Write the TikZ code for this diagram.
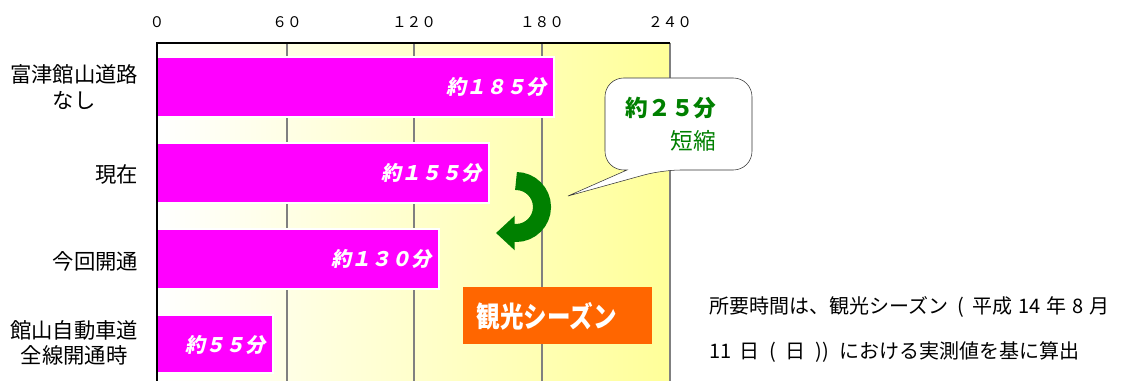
\documentclass[tikz,border=0pt]{standalone}
\usepackage{fontspec}
\usepackage{tikz}
\usetikzlibrary{arrows.meta}

\setmainfont{Noto Sans CJK JP}
\newfontfamily\barfont[FakeSlant=0.2]{Noto Sans CJK JP}
\newfontfamily\seasonfont[FakeStretch=0.82]{Noto Sans CJK JP}

\definecolor{barmagenta}{HTML}{FF00FF}
\definecolor{shortgreen}{HTML}{008000}
\definecolor{seasonorange}{HTML}{FF6600}
\definecolor{gridgray}{HTML}{808080}
\definecolor{plotyellow}{HTML}{FFFF99}

\begin{document}
\begin{tikzpicture}[x=0.75pt,y=-0.75pt,semithick]

  \tikzstyle{axis label}=[font=\fontsize{11}{13}\selectfont]
  \tikzstyle{category}=[anchor=east,align=center,font=\fontsize{16}{19}\selectfont]
  \tikzstyle{bar}=[fill=barmagenta,draw=white,line width=1.5pt]
  \tikzstyle{bar label}=[anchor=east,text=white,font=\barfont\bfseries\fontsize{15}{18}\selectfont]
  \tikzstyle{grid line}=[draw=gridgray,line width=1.5pt]
  \tikzstyle{callout}=[fill=white,draw=black!80,thin]
  \tikzstyle{green text}=[text=shortgreen,font=\fontsize{17}{20}\selectfont]
  \tikzstyle{note}=[anchor=west,font=\fontsize{15}{18}\selectfont]

  \useasboundingbox (0,0) rectangle (1136,381);

  % plot area
  \shade[left color=white,right color=plotyellow] (157,43) rectangle (670,381);
  \foreach \x in {287,414,542,670}
    \draw[grid line] (\x,43) -- (\x,381);
  \foreach \x/\v/\n in {157/０/t0,287/６０/t60,414/１２０/t120,542/１８０/t180,670/２４０/t240}
    \node[axis label] (\n) at (\x,22) {\v};

  % bars
  \draw[bar] (157,57) rectangle (554,117);
  \draw[bar] (157,143) rectangle (489,203);
  \draw[bar] (157,229) rectangle (439,289);
  \draw[bar] (157,315) rectangle (273,373);
  \node[bar label] (b185) at (551,87) {約１８５分};
  \node[bar label] (b155) at (486,173) {約１５５分};
  \node[bar label] (b130) at (436,259) {約１３０分};
  \node[bar label] (b55)  at (270,345) {約５５分};

  \draw[black,line width=1.8pt] (157,381) -- (157,43) -- (670,43);

  % categories
  \node[category] (road)    at (143,87)  {富津館山道路\\なし};
  \node[category] (now)     at (143,174) {現在};
  \node[category] (open)    at (143,261) {今回開通};
  \node[category] (full)    at (143,343) {館山自動車道\\全線開通時};

  % shortening
  \draw[shortgreen,line width=13.5pt,-{Triangle[length=14pt,width=25pt]}]
    (516,181) arc[start angle=-90,end angle=90,radius=26] -- (496,233);
  \draw[callout] (627,170) [rounded corners=14pt] -- (605,170) -- (605,78)
    -- (752,78) -- (752,170) -- (662,170) [sharp corners] -- (568,196) -- cycle;
  \node[green text,font=\bfseries\fontsize{17}{20}\selectfont] (cut) at (671,108) {約２５分};
  \node[green text,anchor=east] (cutword) at (721,141) {短縮};

  % season
  \fill[seasonorange] (463,287) rectangle (652,344);
  \node[anchor=west,text=white,font=\seasonfont\bfseries\fontsize{21.5}{24}\selectfont]
    (season) at (472,316) {観光シーズン};

  % note
  \node[note] (note1) at (705,307)
    {所要時間は、観光シーズン\hspace{0.45em}(\hspace{0.4em}平成\hspace{0.3em}14\hspace{0.3em}年\hspace{0.3em}8\hspace{0.3em}月};
  \node[note] (note2) at (705,352)
    {11\hspace{0.35em}日\hspace{0.5em}(\hspace{0.5em}日\hspace{0.5em}))\hspace{0.5em}における実測値を基に算出};
\end{tikzpicture}
\end{document}
